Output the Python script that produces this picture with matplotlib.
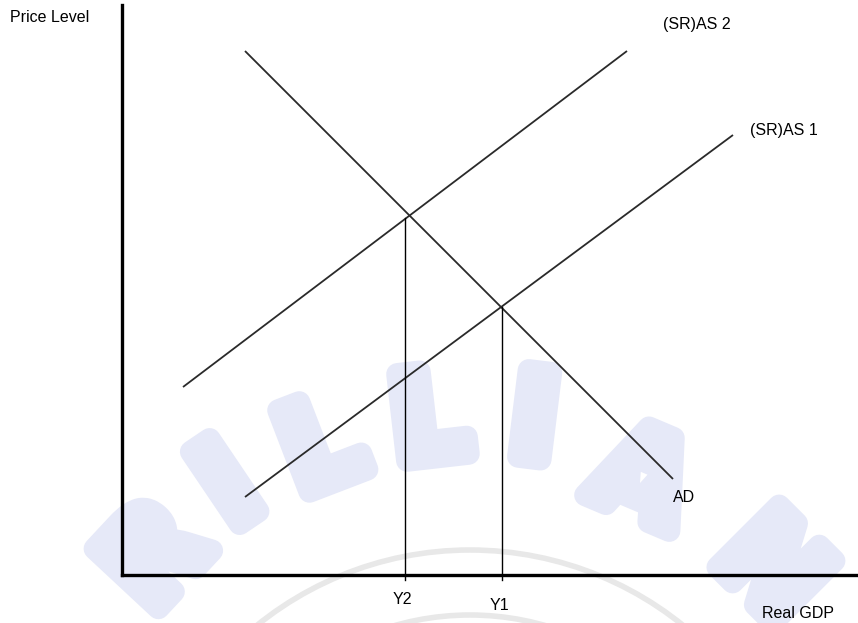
import numpy as np
import matplotlib
matplotlib.use("Agg")
from matplotlib import pyplot as plt
from matplotlib.patches import Circle
import matplotlib.patheffects as pe

# curve end points: (real GDP, price level)
ad_x = [123, 551]
ad_y = [524, 96]
as1_x = [123, 611]
as1_y = [78, 440]
as2_x = [61, 505]
as2_y = [188, 524]

# equilibrium outputs and the price level where each drop line starts
eq_x = [283, 380]
eq_y = [357, 268]
eq_labels = ["Y2", "Y1"]

curve_labels = ["(SR)AS 2", "(SR)AS 1", "AD"]

# watermark letters along an arc (angle from the vertical, distance from arc centre)
wm_letters = ["R", "I", "L", "L", "I", "A", "N"]
wm_angles = [47, 34, 21, 6.5, -7, -23, -45]
wm_radius = [440, 446, 438, 438, 438, 410, 408]

W, H = 858, 623
fig = plt.figure(figsize=(W / 100, H / 100), dpi=100)
plt.rcParams["font.family"] = ["Liberation Sans", "DejaVu Sans"]

# background layer with the faint watermark, in pixel coordinates
bg = fig.add_axes([0, 0, 1, 1], zorder=0)
bg.set_xlim(0, W)
bg.set_ylim(H, 0)
bg.axis("off")
for r in [339, 274]:
    bg.add_patch(Circle((470, 889), r, fill=False, ec="#e8e8e8", lw=4))
cx, cy = 480, 860
wm_col = "#e6e9f8"
for ch, a, rad in zip(wm_letters, wm_angles, wm_radius):
    t = np.radians(a)
    px = cx - rad * np.sin(t)
    py = cy - rad * np.cos(t)
    bg.text(px, py, ch, rotation=a, fontsize=86, fontweight="bold",
            family="DejaVu Sans", color=wm_col, ha="center", va="center",
            rotation_mode="anchor",
            path_effects=[pe.withStroke(linewidth=16, foreground=wm_col)])

ax = fig.add_axes([122 / W, 1 - 575 / H, 1 - 122 / W, 570 / H], zorder=1)
ax.patch.set_alpha(0)
ax.set_xlim(0, 736)
ax.set_ylim(0, 570)
for s in ["top", "right"]:
    ax.spines[s].set_visible(False)
for s in ["left", "bottom"]:
    ax.spines[s].set_linewidth(2.4)
    ax.spines[s].set_color("black")
ax.set_xticks([])
ax.set_yticks([])

line_kw = dict(color="#2a2a2a", lw=1.3, solid_capstyle="butt")
ax.plot(ad_x, ad_y, **line_kw)
ax.plot(as1_x, as1_y, **line_kw)
ax.plot(as2_x, as2_y, **line_kw)

for x, y in zip(eq_x, eq_y):
    ax.plot([x, x], [-5, y], color="black", lw=1.0, clip_on=False)

fs = 11.5
ax.text(as2_x[1] + 36, as2_y[1] + 26, curve_labels[0], fontsize=fs, va="center")
ax.text(as1_x[1] + 17, as1_y[1] + 4, curve_labels[1], fontsize=fs, va="center")
ax.text(ad_x[1], ad_y[1] - 18, curve_labels[2], fontsize=fs, va="center")

for x, lab, dy in zip(eq_x, eq_labels, [-25, -31]):
    ax.text(x - 3, dy, lab, fontsize=fs, ha="center", va="center", clip_on=False)

fig.text(10 / W, 1 - 17 / H, "Price Level", fontsize=fs, va="center")
fig.text(762 / W, 1 - 613 / H, "Real GDP", fontsize=fs, va="center")

fig.savefig("out.png", dpi=100)
